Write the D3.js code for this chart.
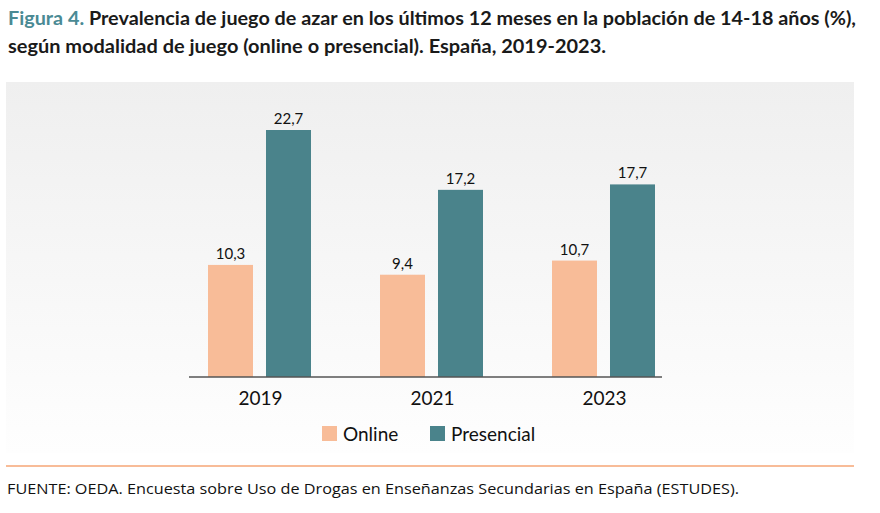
<!DOCTYPE html>
<html lang="es">
<head>
<meta charset="UTF-8" />
<title>Figura 4</title>
<script src="https://d3js.org/d3.v7.min.js"></script>
<style>
  body { margin: 0; background: #fff; font-family: Lato, sans-serif; }
  svg { display: block; }
  .title { font-size: 19.5px; font-weight: bold; fill: #1a1a1a; }
  .val { font-size: 15px; fill: #111; }
  .year { font-size: 19px; fill: #111; }
  .leg { font-size: 19px; fill: #111; }
  .foot { font-family: 'Open Sans', sans-serif; font-size: 14px; fill: #111; }
</style>
</head>
<body>
<div id="chart"></div>
<script>
const years = ['2019', '2021', '2023'];
const series = ['Online', 'Presencial'];
const online = [10.3, 9.4, 10.7];
const presencial = [22.7, 17.2, 17.7];
const colors = ['#f8bc98', '#4a838b'];

const width = 880, height = 513;
const fmt = v => String(v).replace('.', ',');

const svg = d3.select("#chart").append("svg")
  .attr("width", width).attr("height", height);

const grad = svg.append("defs").append("linearGradient")
  .attr("id", "bg").attr("x1", 0).attr("y1", 0).attr("x2", 0).attr("y2", 1);
grad.append("stop").attr("offset", "0%").attr("stop-color", "#efefef");
grad.append("stop").attr("offset", "100%").attr("stop-color", "#fefefe");

// title, two lines
const t1 = svg.append("text").attr("class", "title")
  .attr("x", 8).attr("y", 25)
  .attr("textLength", 848).attr("lengthAdjust", "spacingAndGlyphs");
t1.append("tspan").attr("fill", "#4a8a94").text("Figura 4. ");
t1.append("tspan").text("Prevalencia de juego de azar en los últimos 12 meses en la población de 14-18 años (%),");

svg.append("text").attr("class", "title")
  .attr("x", 8).attr("y", 53)
  .attr("textLength", 598).attr("lengthAdjust", "spacingAndGlyphs")
  .text("según modalidad de juego (online o presencial). España, 2019-2023.");

// gray panel
svg.append("rect").attr("x", 6).attr("y", 82).attr("width", 848).attr("height", 371)
  .attr("fill", "url(#bg)");

const x0 = d3.scaleBand().domain(years).range([173.5, 689.5]);
const x1 = d3.scaleBand().domain(series)
  .range([x0.bandwidth() / 2 - 51.5, x0.bandwidth() / 2 + 51.5])
  .paddingInner(0.224);
const y = d3.scaleLinear().domain([0, 22.7]).range([377, 130]);

const rows = years.map((yr, i) => ({ year: yr, vals: [online[i], presencial[i]] }));

const g = svg.selectAll(".grp").data(rows).enter().append("g")
  .attr("transform", d => `translate(${x0(d.year)},0)`);

const bars = g.selectAll("g").data(d => d.vals.map((v, j) => ({ key: series[j], v, j })))
  .enter().append("g");

bars.append("rect")
  .attr("x", d => x1(d.key))
  .attr("width", x1.bandwidth())
  .attr("y", d => y(d.v))
  .attr("height", d => y(0) - y(d.v))
  .attr("fill", d => colors[d.j]);

bars.append("text").attr("class", "val")
  .attr("x", d => x1(d.key) + x1.bandwidth() / 2)
  .attr("y", d => y(d.v) - 6)
  .attr("text-anchor", "middle")
  .text(d => fmt(d.v));

// baseline
svg.append("line").attr("x1", 189).attr("x2", 662).attr("y1", y(0)).attr("y2", y(0))
  .attr("stroke", "#555").attr("stroke-width", 1.3);

svg.selectAll(".year").data(years).enter().append("text").attr("class", "year")
  .attr("x", d => x0(d) + x0.bandwidth() / 2 + 1)
  .attr("y", 405)
  .attr("text-anchor", "middle")
  .text(d => d);

// legend
const legX = [322, 430];
const leg = svg.selectAll(".lg").data(series).enter().append("g")
  .attr("transform", (d, i) => `translate(${legX[i]},426)`);
leg.append("rect").attr("width", 15).attr("height", 15).attr("fill", (d, i) => colors[i]);
leg.append("text").attr("class", "leg").attr("x", 21).attr("y", 14.5).text(d => d);

// source
svg.append("line").attr("x1", 6).attr("x2", 854).attr("y1", 466).attr("y2", 466)
  .attr("stroke", "#f8bc98").attr("stroke-width", 2);

svg.append("text").attr("class", "foot")
  .attr("x", 7).attr("y", 494)
  .attr("textLength", 732).attr("lengthAdjust", "spacingAndGlyphs")
  .text("FUENTE: OEDA. Encuesta sobre Uso de Drogas en Enseñanzas Secundarias en España (ESTUDES).");
</script>
</body>
</html>
